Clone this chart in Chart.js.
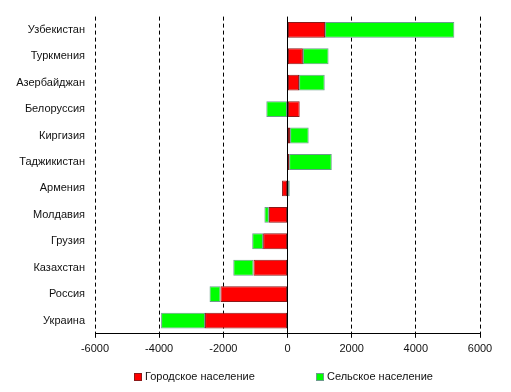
<!DOCTYPE html>
<html>
<head>
<meta charset="utf-8">
<script src="https://cdn.jsdelivr.net/npm/chart.js@4/dist/chart.umd.min.js"></script>
<style>
	html, body { margin: 0; padding: 0; background: #fff; }
	.wrap { position: relative; width: 511px; height: 392px; }
	.legend { position: absolute; top: 370px; font: 11px 'Liberation Sans', Arial, sans-serif; color: #111; white-space: nowrap; }
	.legend span.box { display: inline-block; width: 6px; height: 6px; border: 1px solid; vertical-align: -1px; margin-right: 3px; }
</style>
</head>
<body>
<div class="wrap">
	<canvas id="chart" width="511" height="392"></canvas>
	<div class="legend" style="left:134px"><span class="box" style="background:#ff0000;border-color:#8b1a1a"></span>Городское население</div>
	<div class="legend" style="left:316px"><span class="box" style="background:#00ff00;border-color:#6c9c8c"></span>Сельское население</div>
</div>
<script>
const regions = ['Узбекистан', 'Туркмения', 'Азербайджан', 'Белоруссия', 'Киргизия', 'Таджикистан', 'Армения', 'Молдавия', 'Грузия', 'Казахстан', 'Россия', 'Украина'];
const urban = [1170, 480, 360, 380, 80, 50, -170, -580, -760, -1060, -2090, -2570];
const rural = [4030, 800, 800, -660, 580, 1330, 70, -140, -340, -630, -340, -1370];
const xTicks = [-6000, -4000, -2000, 0, 2000, 4000, 6000];

const font = { family: "'Liberation Sans', Arial, sans-serif", size: 11 };

new Chart(document.getElementById('chart'), {
	type: 'bar',
	data: {
		labels: regions,
		datasets: [
			{
				label: 'Городское население',
				data: urban,
				backgroundColor: '#ff0000',
				borderColor: '#8b1a1a',
				borderWidth: 1,
				borderSkipped: false,
			},
			{
				label: 'Сельское население',
				data: rural,
				backgroundColor: '#00ff00',
				borderColor: '#6c9c8c',
				borderWidth: 1,
				borderSkipped: false,
			},
		],
	},
	options: {
		indexAxis: 'y',
		responsive: false,
		animation: false,
		barPercentage: 0.6,
		categoryPercentage: 1,
		layout: { padding: { top: 14, right: 31, bottom: 31, left: 0 } },
		plugins: {
			legend: { display: false },
			tooltip: { enabled: false },
		},
		scales: {
			x: {
				stacked: true,
				min: xTicks[0],
				max: xTicks[xTicks.length - 1],
				afterBuildTicks: (scale) => {
					scale.ticks = xTicks.map((v) => ({ value: v }));
				},
				ticks: { color: '#111', font, padding: 5, maxRotation: 0, callback: (v) => String(v) },
				grid: {
					color: '#000',
					lineWidth: 1,
					tickLength: 4,
					tickColor: '#000',
					tickBorderDash: [],
				},
				border: {
					display: true,
					color: '#000',
					width: 1,
					dash: (ctx) => (ctx.tick && ctx.tick.value === 0 ? [] : [4, 3]),
				},
			},
			y: {
				stacked: true,
				afterFit: (scale) => {
					scale.width = 95;
				},
				ticks: { color: '#111', font, padding: 10 },
				grid: { display: false, drawTicks: false },
				border: { display: false },
			},
		},
	},
});
</script>
</body>
</html>
